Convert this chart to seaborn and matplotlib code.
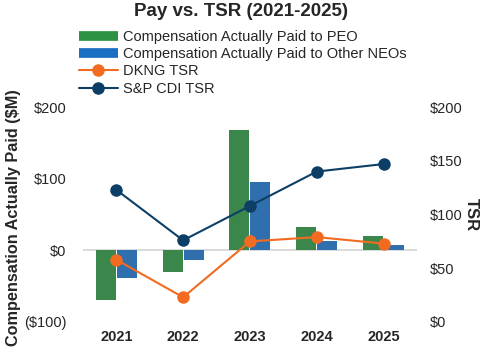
import numpy as np
import pandas as pd
import matplotlib
matplotlib.use("Agg")
import matplotlib.pyplot as plt
from matplotlib.lines import Line2D
import seaborn as sns

sns.set_style("white")
plt.rcParams['font.family'] = ['Liberation Sans', 'DejaVu Sans']

# data
years = ["2021", "2022", "2023", "2024", "2025"]
cap_peo = [-69, -30, 168, 32, 20]          # $M
cap_neo = [-39, -14, 96, 13, 8]            # $M
dkng_tsr = [58, 23, 75, 79, 73]            # $
sp_cdi_tsr = [123, 76, 108, 140, 147]      # $

series_names = ["Compensation Actually Paid to PEO", "Compensation Actually Paid to Other NEOs"]
green = "#2E9244"
blue = "#1B6FC2"
orange = "#F26B21"
navy = "#0D3F66"

df = pd.DataFrame({
    "year": years * 2,
    "value": cap_peo + cap_neo,
    "series": [series_names[0]] * 5 + [series_names[1]] * 5,
})

fig = plt.figure(figsize=(4.82, 3.5), dpi=100)
ax = fig.add_axes([0.172, 0.08, 0.693, 0.614])

sns.barplot(data=df, x="year", y="value", hue="series", palette=[green, blue],
            width=0.63, gap=0.05, ax=ax, legend=False, linewidth=0)
ax.axhline(0, color="#d4d4d4", lw=1.2, zorder=0.5)
ax.set_ylim(-100, 200)
ax.set_xlim(-0.5, 4.5)
ax.set_yticks([-100, 0, 100, 200])
ax.set_yticklabels(["($100)", "$0", "$100", "$200"])
ax.set_xlabel("")
ax.set_ylabel("Compensation Actually Paid ($M)", fontsize=11.7, fontweight="bold", labelpad=0)
ax.yaxis.set_label_coords(-0.185, 0.485)
ax.tick_params(axis="y", labelsize=10.5, pad=12, length=0)
ax.tick_params(axis="x", labelsize=10.5, pad=6, length=0)
for lab in ax.get_xticklabels():
    lab.set_fontweight("bold")
sns.despine(ax=ax, left=True, bottom=True)

ax2 = ax.twinx()
xs = np.arange(len(years))
sns.lineplot(x=xs, y=dkng_tsr, ax=ax2, color=orange, marker="o", markersize=9,
             markeredgewidth=0, lw=1.5)
sns.lineplot(x=xs, y=sp_cdi_tsr, ax=ax2, color=navy, marker="o", markersize=9,
             markeredgewidth=0, lw=1.5)
ax2.set_ylim(0, 200)
ax2.set_yticks([0, 50, 100, 150, 200])
ax2.set_yticklabels(["$0", "$50", "$100", "$150", "$200"])
ax2.tick_params(axis="y", labelsize=10.5, pad=9, length=0)
ax2.set_ylabel("TSR", fontsize=12, fontweight="bold", rotation=270, labelpad=12)
for s in ax2.spines.values():
    s.set_visible(False)

fig.suptitle("Pay vs. TSR (2021-2025)", fontsize=13.5, fontweight="bold", y=0.99)

handles = [
    Line2D([0], [0], color=green, lw=7, solid_capstyle="butt"),
    Line2D([0], [0], color=blue, lw=7, solid_capstyle="butt"),
    Line2D([0], [0], color=orange, lw=1.5, marker="o", markersize=8),
    Line2D([0], [0], color=navy, lw=1.5, marker="o", markersize=8),
]
labels = series_names + ["DKNG TSR", "S&P CDI TSR"]
fig.legend(handles, labels, loc="upper left", bbox_to_anchor=(0.148, 0.935),
           frameon=False, fontsize=10.5, handlelength=2.7, handletextpad=0.35,
           labelspacing=0.22, borderpad=0)

fig.savefig("out.png", dpi=100)
